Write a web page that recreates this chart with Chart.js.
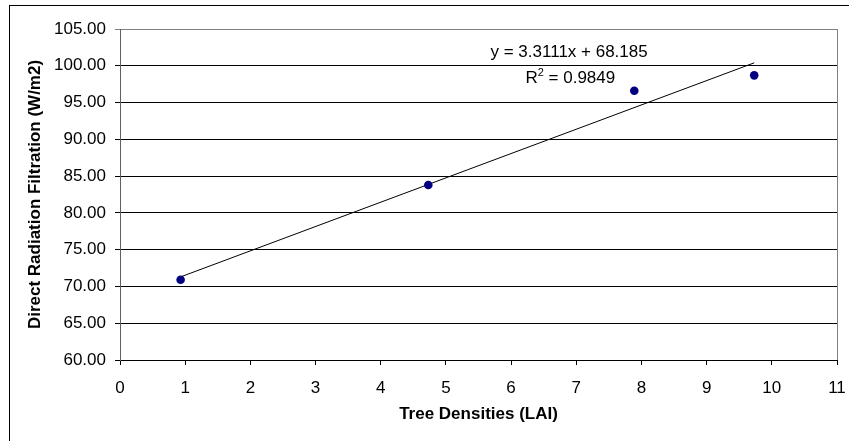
<!DOCTYPE html>
<html>
<head>
<meta charset="utf-8">
<script src="https://cdn.jsdelivr.net/npm/chart.js@4/dist/chart.umd.min.js"></script>
<style>
  body { margin: 0; background: #fff; }
  #wrap { width: 849px; height: 441px; position: relative; }
</style>
</head>
<body>
<div id="wrap"><canvas id="graph" width="849" height="441"></canvas></div>
<script>
/*************************** Data ***************************/
const lai = [0.93, 4.73, 7.89, 9.73];
const filtration = [70.9, 83.8, 96.6, 98.7];
// trend line ends
const trendX = [0.93, 9.73];
const trendY = [71.3, 100.4];
const equationText = 'y = 3.3111x + 68.185';
const r2Value = ' = 0.9849';

const FONT = '"Liberation Sans", Arial, sans-serif';

const points = lai.map((x, i) => ({x: x, y: filtration[i]}));
const trend = trendX.map((x, i) => ({x: x, y: trendY[i]}));

/************** borders + trend label plugin **************/
const extras = {
    id: 'extras',
    beforeDatasetsDraw(chart) {
        const ctx = chart.ctx, a = chart.chartArea;
        ctx.save();
        ctx.strokeStyle = '#808080';
        ctx.lineWidth = 1;
        ctx.beginPath();
        ctx.moveTo(Math.round(a.right) + 0.5, a.top);
        ctx.lineTo(Math.round(a.right) + 0.5, a.bottom);
        ctx.stroke();
        ctx.restore();
    },
    afterDraw(chart) {
        const ctx = chart.ctx;
        const xs = chart.scales.x, ys = chart.scales.y;
        ctx.save();
        // outer frame
        ctx.strokeStyle = '#000';
        ctx.lineWidth = 1;
        ctx.strokeRect(9.5, 5.5, 900, 500);
        // equation
        ctx.fillStyle = '#000';
        ctx.font = '17px ' + FONT;
        ctx.textBaseline = 'alphabetic';
        ctx.textAlign = 'center';
        ctx.fillText(equationText, xs.getPixelForValue(6.89), ys.getPixelForValue(101.2));
        // R squared with superscript
        const bx = xs.getPixelForValue(6.22), by = ys.getPixelForValue(97.65);
        ctx.textAlign = 'left';
        ctx.fillText('R', bx, by);
        const rw = ctx.measureText('R').width;
        ctx.font = '11px ' + FONT;
        ctx.fillText('2', bx + rw, by - 7);
        const sw = ctx.measureText('2').width;
        ctx.font = '17px ' + FONT;
        ctx.fillText(r2Value, bx + rw + sw, by);
        ctx.restore();
    }
};

/*********************** Draw graph ***********************/
const ctx = document.getElementById('graph');
const graph = new Chart(ctx, {
    type: 'scatter',
    data: {
        datasets: [{
            label: 'Direct Radiation Filtration',
            data: points,
            backgroundColor: '#000080',
            borderColor: '#000080',
            pointRadius: 4.3,
            pointBorderWidth: 0
        }, {
            label: 'Linear trend',
            data: trend,
            showLine: true,
            borderColor: '#000',
            borderWidth: 1,
            pointRadius: 0
        }]
    },
    options: {
        responsive: false,
        animation: false,
        layout: { padding: { top: 29, right: 12, left: 0, bottom: 0 } },
        plugins: { legend: { display: false }, tooltip: { enabled: false } },
        scales: {
            x: {
                type: 'linear',
                min: 0, max: 11,
                ticks: { stepSize: 1, color: '#000', padding: 13, font: { family: FONT, size: 17 } },
                grid: { drawOnChartArea: false, drawTicks: true, tickLength: 5, color: '#000' },
                border: { color: '#000' },
                title: { display: true, text: 'Tree Densities (LAI)', color: '#000',
                         font: { family: FONT, size: 17, weight: 'bold' }, padding: { top: 0, bottom: 16 } },
                afterFit: s => { s.height = 81; s.paddingRight = 0; }
            },
            y: {
                min: 60, max: 105,
                ticks: { stepSize: 5, color: '#000', padding: 9, font: { family: FONT, size: 17 },
                         callback: v => v.toFixed(2) },
                grid: { color: c => (c.tick && c.tick.value === 105 ? '#808080' : '#000'), tickLength: 5, lineWidth: 1 },
                border: { color: '#606060' },
                title: { display: true, text: 'Direct Radiation Filtration (W/m2)', color: '#000',
                         font: { family: FONT, size: 17, weight: 'bold' }, padding: { top: 25, bottom: 0 } },
                afterFit: s => { s.width = 120; }
            }
        }
    },
    plugins: [extras]
});
</script>
</body>
</html>
